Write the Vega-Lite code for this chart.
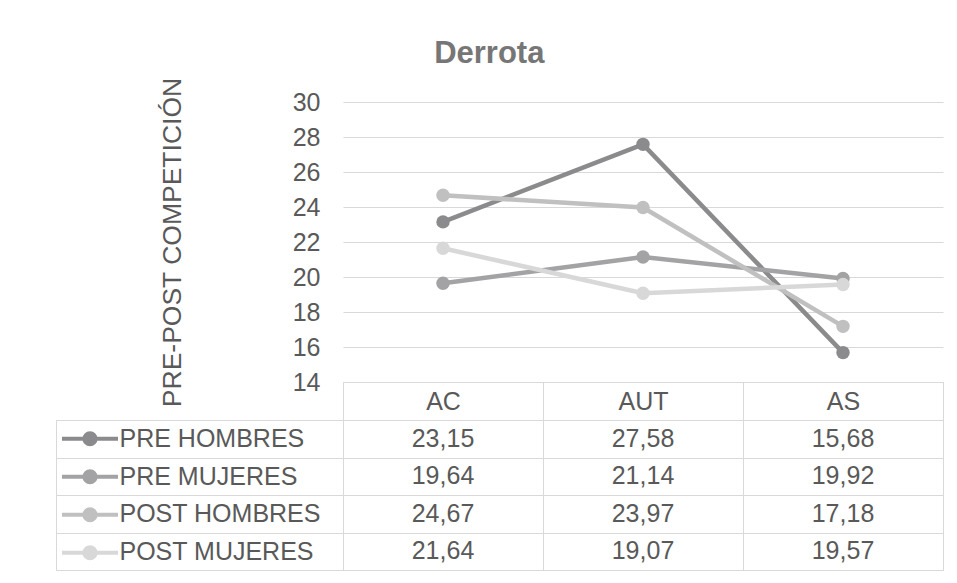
{
  "$schema": "https://vega.github.io/schema/vega-lite/v6.json",
  "background": "white",
  "padding": {"left": 55, "top": 38, "right": 15, "bottom": 10},
  "autosize": {"type": "pad"},
  "title": {"text": "Derrota", "fontSize": 31, "fontWeight": "bold", "color": "#767676", "anchor": "middle", "offset": 7, "dx": -10},
  "datasets": {
    "d": [
      {"series": "PRE HOMBRES", "cat": "AC", "value": 23.15},
      {"series": "PRE HOMBRES", "cat": "AUT", "value": 27.58},
      {"series": "PRE HOMBRES", "cat": "AS", "value": 15.68},
      {"series": "PRE MUJERES", "cat": "AC", "value": 19.64},
      {"series": "PRE MUJERES", "cat": "AUT", "value": 21.14},
      {"series": "PRE MUJERES", "cat": "AS", "value": 19.92},
      {"series": "POST HOMBRES", "cat": "AC", "value": 24.67},
      {"series": "POST HOMBRES", "cat": "AUT", "value": 23.97},
      {"series": "POST HOMBRES", "cat": "AS", "value": 17.18},
      {"series": "POST MUJERES", "cat": "AC", "value": 21.64},
      {"series": "POST MUJERES", "cat": "AUT", "value": 19.07},
      {"series": "POST MUJERES", "cat": "AS", "value": 19.57}
    ]
  },
  "data": {"name": "d"},
  "bounds": "flush",
  "spacing": 38,
  "vconcat": [
    {
      "width": 887,
      "height": 280,
      "encoding": {
        "x": {
          "field": "cat", "type": "nominal",
          "scale": {"type": "band", "domain": ["AC", "AUT", "AS"], "range": [287, 887], "paddingInner": 0, "paddingOuter": 0},
          "axis": {"title": null, "orient": "bottom", "tickBand": "extent", "tickSize": 38, "tickColor": "#d9d9d9", "domainColor": "#d9d9d9", "labelPadding": -19, "labelBaseline": "middle", "labelFontSize": 25, "labelColor": "#595959", "grid": false, "labelAngle": 0}
        },
        "y": {
          "field": "value", "type": "quantitative",
          "scale": {"domain": [14, 30], "nice": false, "zero": false},
          "axis": {"title": "PRE-POST COMPETICIÓN", "offset": -287, "values": [14, 16, 18, 20, 22, 24, 26, 28, 30], "domain": false, "ticks": false, "tickSize": 0, "labelPadding": 23, "labelFontSize": 25, "labelColor": "#595959", "gridColor": "#d9d9d9", "titleFontSize": 26.5, "titleFontWeight": "normal", "titleColor": "#595959", "titlePadding": 106}
        },
        "color": {
          "field": "series", "type": "nominal",
          "scale": {"domain": ["PRE HOMBRES", "PRE MUJERES", "POST HOMBRES", "POST MUJERES"], "range": ["#8b8b8d", "#a3a3a5", "#c0c0c0", "#d8d8d8"]},
          "legend": {
            "orient": "none", "legendX": 4, "legendY": 318, "title": null,
            "symbolType": "M-1,0H1M0.2,0A0.2,0.2,0,1,1,-0.2,0A0.2,0.2,0,1,1,0.2,0Z",
            "symbolSize": 3136, "symbolStrokeWidth": 4, "labelExpr": "''", "rowPadding": 0, "clipHeight": 37.5, "padding": 0,
            "encode": {"symbols": {"update": {"fill": {"scale": "color", "field": "value"}, "stroke": {"scale": "color", "field": "value"}, "opacity": {"value": 1}}}}
          }
        }
      },
      "layer": [
        {"mark": {"type": "line", "strokeWidth": 4.5}},
        {"mark": {"type": "point", "filled": true, "size": 180, "opacity": 1}}
      ]
    },
    {
      "width": 887,
      "height": 150,
      "view": {"stroke": "#d9d9d9"},
      "mark": {"type": "text", "fontSize": 25, "color": "#595959", "align": "center", "baseline": "middle"},
      "encoding": {
        "x": {
          "field": "cat", "type": "nominal",
          "scale": {"type": "band", "domain": ["AC", "AUT", "AS"], "range": [287, 887], "paddingInner": 0, "paddingOuter": 0},
          "axis": {"title": null, "labels": false, "ticks": false, "domain": false, "grid": true, "tickBand": "extent", "gridColor": "#d9d9d9"}
        },
        "y": {
          "field": "series", "type": "nominal",
          "scale": {"domain": ["PRE HOMBRES", "PRE MUJERES", "POST HOMBRES", "POST MUJERES"], "paddingInner": 0, "paddingOuter": 0},
          "axis": {"title": null, "offset": -287, "tickSize": 287, "tickBand": "extent", "tickColor": "#d9d9d9", "domainColor": "#d9d9d9", "labelAlign": "left", "labelBaseline": "middle", "labelPadding": -63, "labelLimit": 400, "labelFontSize": 25, "labelColor": "#595959", "grid": true, "gridColor": "#d9d9d9"}
        },
        "text": {"field": "value", "type": "quantitative", "format": ".2f"}
      }
    }
  ],
  "config": {
    "font": "Liberation Sans",
    "view": {"stroke": null},
    "locale": {"number": {"decimal": ",", "thousands": ".", "grouping": [3], "currency": ["", " €"]}}
  }
}
